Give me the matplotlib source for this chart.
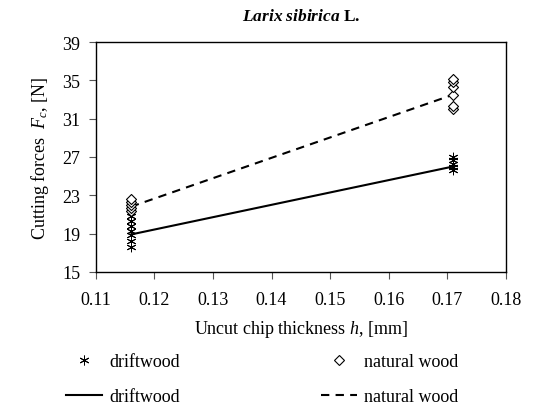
import numpy as np
import matplotlib
matplotlib.use("Agg")
import matplotlib.pyplot as plt
from matplotlib.lines import Line2D

plt.rcParams['font.family'] = ['Liberation Serif', 'DejaVu Serif']
plt.rcParams['mathtext.fontset'] = 'custom'
plt.rcParams['mathtext.rm'] = 'Liberation Serif'
plt.rcParams['mathtext.it'] = 'Liberation Serif:italic'
plt.rcParams['mathtext.bf'] = 'Liberation Serif:bold'
plt.rcParams['mathtext.bfit'] = 'Liberation Serif:italic:bold'

# measured points
drift_x = [0.116] * 8 + [0.171] * 5
drift_y = [17.6, 18.2, 18.8, 19.3, 19.8, 20.3, 20.8, 21.2,
           25.6, 25.9, 26.3, 26.7, 27.0]
natural_x = [0.116] * 5 + [0.171] * 6
natural_y = [21.4, 21.7, 22.0, 22.3, 22.6,
             32.0, 32.3, 33.5, 34.3, 34.8, 35.1]

# trend lines
line_x = [0.116, 0.171]
drift_line = [18.9, 26.0]
natural_line = [21.8, 33.5]

xticks = [0.11, 0.12, 0.13, 0.14, 0.15, 0.16, 0.17, 0.18]
yticks = [15, 19, 23, 27, 31, 35, 39]

fig = plt.figure(figsize=(5.41, 4.06), dpi=100)
ax = fig.add_axes([0.177, 0.328, 0.758, 0.566])

sc_d = ax.scatter(drift_x, drift_y, marker=(6, 2, 0), s=40, color='black',
                  linewidths=0.7, zorder=3)
sc_n = ax.scatter(natural_x, natural_y, marker='D', s=26, facecolors='white',
                  edgecolors='black', linewidths=0.8, zorder=3)
ln_d, = ax.plot(line_x, drift_line, color='black', lw=1.5)
ln_n, = ax.plot(line_x, natural_line, color='black', lw=1.5, ls=(0, (4, 3)))

ax.set_xlim(0.11, 0.18)
ax.set_ylim(15, 39)
ax.set_xticks(xticks)
ax.set_yticks(yticks)
ax.set_xticklabels(['%.2f' % t for t in xticks])
ax.tick_params(direction='out', length=5, labelsize=13, color='#555555')
ax.tick_params(axis='x', pad=9)
ax.tick_params(axis='y', pad=6)
for s in ax.spines.values():
    s.set_linewidth(1.0)

ax.set_xlabel(r'Uncut chip thickness $h$, [mm]', fontsize=13, labelpad=7)
ax.set_ylabel(r'Cutting forces  $F_c$, [N]', fontsize=13, labelpad=8)
ax.set_title(r'$\mathbfit{Larix\ sibirica}$ L.', fontsize=12.5,
             fontweight='bold', pad=16)

handles = [Line2D([], [], marker=(6, 2, 0), ls='none', color='black',
                  markersize=7, markeredgewidth=0.7),
           ln_d,
           Line2D([], [], marker='D', ls='none', markerfacecolor='white',
                  markeredgecolor='black', markersize=5.5, markeredgewidth=0.8),
           ln_n]
labels = ['driftwood', 'driftwood', 'natural wood', 'natural wood']
fig.legend(handles, labels, ncol=2, loc='lower left',
           bbox_to_anchor=(0.115, -0.01), frameon=False, fontsize=13,
           columnspacing=7.8, handlelength=2.0, handletextpad=0.4,
           labelspacing=1.0, borderpad=0.2, borderaxespad=0)

fig.savefig('out.png', dpi=100)
